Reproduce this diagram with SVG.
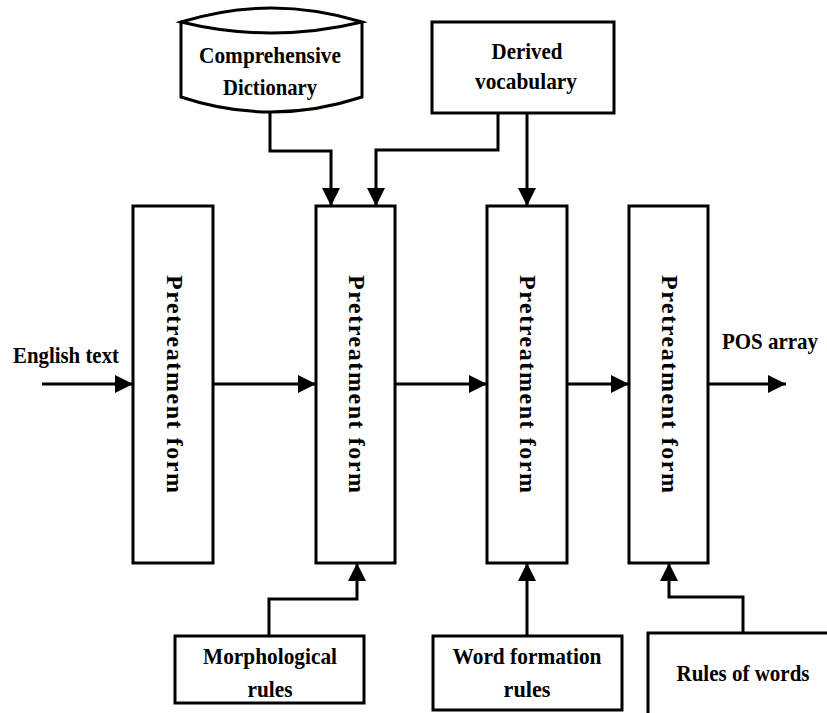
<svg xmlns="http://www.w3.org/2000/svg" width="827" height="713" viewBox="0 0 827 713">
<defs>
<marker id="ah" markerUnits="userSpaceOnUse" markerWidth="18" markerHeight="18" refX="18" refY="9" orient="auto">
<path d="M0,0 L18,9 L0,18 z" fill="#000"/>
</marker>
<style>
.b{fill:#fff;stroke:#000;stroke-width:3}
.t{font-family:"Liberation Serif","Times New Roman",serif;font-weight:bold;font-size:23px;fill:#000;text-anchor:middle}
.v{font-family:"Liberation Serif","Times New Roman",serif;font-weight:bold;font-size:24px;fill:#000;text-anchor:middle;dominant-baseline:central}
.c{fill:none;stroke:#000;stroke-width:3;marker-end:url(#ah)}
</style>
</defs>
<rect width="827" height="713" fill="#fff"/>
<g id="dictionary">
<path class="b" d="M181,22 V97 Q271,127 362,97 V22"/>
<path class="b" d="M181,22 Q271,-6 362,22 Q271,44 181,22 Z"/>
<text class="t" x="270" y="63" textLength="142" lengthAdjust="spacingAndGlyphs">Comprehensive</text>
<text class="t" x="270" y="95" textLength="94" lengthAdjust="spacingAndGlyphs">Dictionary</text>
</g>
<g id="derived">
<rect class="b" x="432" y="22" width="182" height="91"/>
<text class="t" x="527" y="59" textLength="71" lengthAdjust="spacingAndGlyphs">Derived</text>
<text class="t" x="526" y="89" textLength="102" lengthAdjust="spacingAndGlyphs">vocabulary</text>
</g>
<g id="box1">
<rect class="b" x="133" y="206" width="80" height="357"/>
<text class="v" transform="translate(175,384) rotate(90)" textLength="218" lengthAdjust="spacing">Pretreatment form</text>
</g>
<g id="box2">
<rect class="b" x="316" y="206" width="79" height="357"/>
<text class="v" transform="translate(357,384) rotate(90)" textLength="218" lengthAdjust="spacing">Pretreatment form</text>
</g>
<g id="box3">
<rect class="b" x="487" y="206" width="80" height="357"/>
<text class="v" transform="translate(528,384) rotate(90)" textLength="218" lengthAdjust="spacing">Pretreatment form</text>
</g>
<g id="box4">
<rect class="b" x="629" y="206" width="79" height="357"/>
<text class="v" transform="translate(670,384) rotate(90)" textLength="218" lengthAdjust="spacing">Pretreatment form</text>
</g>
<g id="morph">
<rect class="b" x="175" y="636" width="189" height="67"/>
<text class="t" x="270" y="664" textLength="134" lengthAdjust="spacingAndGlyphs">Morphological</text>
<text class="t" x="270" y="697" textLength="45" lengthAdjust="spacingAndGlyphs">rules</text>
</g>
<g id="wordform">
<rect class="b" x="433" y="636" width="189" height="74"/>
<text class="t" x="527" y="664" textLength="149" lengthAdjust="spacingAndGlyphs">Word formation</text>
<text class="t" x="527" y="697" textLength="47" lengthAdjust="spacingAndGlyphs">rules</text>
</g>
<g id="rulesofwords">
<rect class="b" x="648" y="633" width="200" height="100"/>
<text class="t" x="743" y="681" textLength="133" lengthAdjust="spacingAndGlyphs">Rules of words</text>
</g>
<g id="labels">
<text class="t" x="66" y="363" textLength="106" lengthAdjust="spacingAndGlyphs">English text</text>
<text class="t" x="770" y="349" textLength="96" lengthAdjust="spacingAndGlyphs">POS array</text>
</g>
<g id="connectors">
<path class="c" d="M42,384 H133"/>
<path class="c" d="M213,384 H316"/>
<path class="c" d="M395,384 H487"/>
<path class="c" d="M567,384 H629"/>
<path class="c" d="M708,384 H786"/>
<path class="c" d="M270,111 V151 H331 V206"/>
<path class="c" d="M498,113 V150 H376 V206"/>
<path class="c" d="M527,113 V206"/>
<path class="c" d="M269,636 V599 H357 V563"/>
<path class="c" d="M527,636 V563"/>
<path class="c" d="M743,633 V597 H669 V563"/>
</g>
</svg>
